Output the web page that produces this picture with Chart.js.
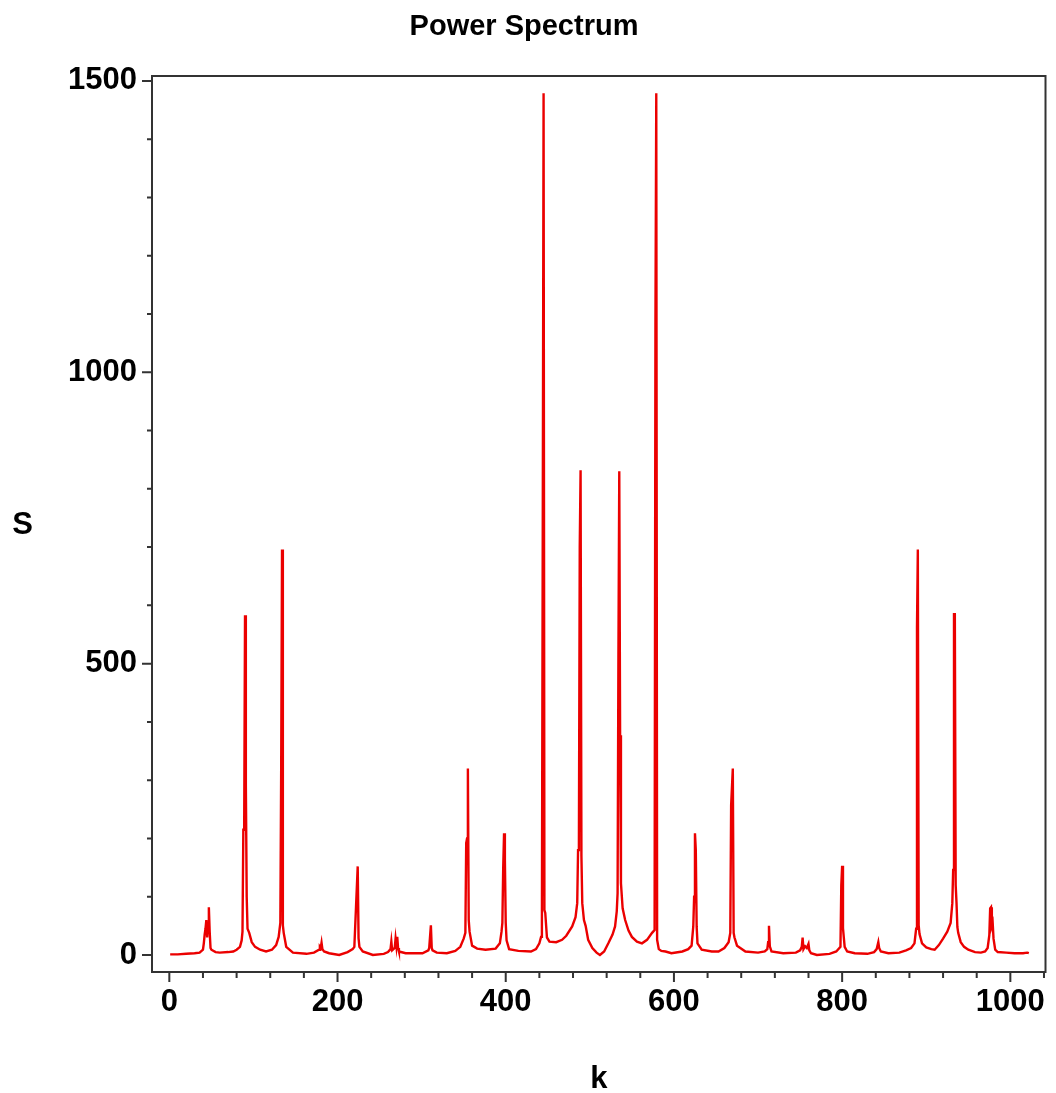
<!DOCTYPE html>
<html><head><meta charset="utf-8">
<script src="https://cdn.jsdelivr.net/npm/chart.js@4.4.1/dist/chart.umd.min.js"></script>
<style>html,body{margin:0;padding:0;background:#fff;}canvas{display:block;}</style>
</head><body>
<canvas id="c" width="1056" height="1093"></canvas>
<script>
const chartTitle = 'Power Spectrum';
const xAxisTitle = 'k';
const yAxisTitle = 'S';

const kValues = [
  1, 10, 20, 30, 36, 40, 41, 42, 43, 44, 45, 46, 47, 48, 49, 50,
  55, 60, 70, 76, 80, 84, 86, 87, 88, 89, 90, 91, 92, 93, 95, 98, 102,
  108, 115, 122, 127, 130, 132, 133, 134, 135, 136, 139, 147,
  163, 172, 178, 179, 180, 181, 182, 184, 190, 202, 212, 218, 220, 221, 222, 223, 224, 225, 226, 230, 242,
  255, 260, 263, 264, 265, 268, 269, 270, 271, 272, 273, 281, 301, 308, 309, 311, 312, 313, 318, 330,
  340, 346, 350, 352, 353, 354, 355, 356, 357, 360, 366, 376, 388, 393, 395, 396, 397, 398, 399, 400, 401, 404,
  415, 430, 436, 440, 442, 443, 444, 445, 446, 447, 449, 452, 460, 467, 472, 479, 483, 485, 486, 487, 488, 489, 490, 491, 493, 495, 498, 503, 508, 512,
  517, 522, 527, 530, 532, 533, 534, 535, 536, 537, 539, 542, 546, 550, 556, 562, 568, 574, 577, 578, 579, 580, 582, 585, 590, 597,
  610, 617, 621, 623, 624, 625, 626, 627, 628, 633, 645, 653, 660, 665, 667, 668, 669, 670, 671, 672, 675, 685,
  700, 708, 711, 712, 713, 714, 716, 730, 745, 750, 752, 753, 754, 756, 758, 760, 761, 763, 770,
  785, 793, 798, 799, 800, 801, 802, 803, 806, 815, 830, 838, 841, 843, 844, 846, 855, 868,
  876, 882, 886, 888, 889, 890, 891, 892, 895, 900, 906, 910, 915, 920, 925, 929, 931, 932, 933, 934, 935, 936, 937, 938,
  941, 945, 950, 958, 965, 970, 973, 975, 976, 977, 978, 979, 980, 982, 985, 995, 1005, 1015, 1020, 1022
];
const sValues = [
  1, 1, 2, 3, 4, 9, 20, 35, 45, 60, 30, 55, 82, 40, 12, 9,
  5, 4, 5, 6, 9, 14, 25, 40, 215, 215, 583, 292, 100, 45, 38, 22, 14,
  9, 6, 9, 17, 31, 55, 320, 696, 51, 38, 14, 4,
  2, 4, 9, 14, 12, 21, 10, 6, 3, 0, 5, 10, 14, 49, 83, 83, 152, 29, 14, 6, 0,
  2, 5, 10, 23, 8, 12, 28, 15, 31, 12, 6, 3, 3, 8, 12, 51, 12, 8, 4, 3,
  7, 14, 28, 38, 192, 200, 320, 60, 40, 16, 11, 9, 11, 20, 40, 55, 150, 209, 163, 55, 25, 10,
  7, 6, 10, 20, 31, 50, 720, 1479, 77, 72, 30, 23, 22, 26, 33, 49, 65, 89, 180, 190, 700, 832, 170, 89, 60, 50, 26, 12, 4, 0,
  6, 20, 35, 49, 75, 106, 520, 830, 377, 123, 80, 60, 42, 31, 23, 20, 26, 38, 43, 1085, 1479, 26, 10, 7, 6, 3,
  6, 10, 16, 49, 100, 209, 180, 49, 20, 9, 6, 6, 12, 22, 38, 257, 257, 320, 38, 30, 16, 6,
  4, 6, 10, 22, 50, 15, 6, 3, 4, 8, 14, 30, 10, 15, 12, 19, 8, 3, 0,
  2, 6, 14, 120, 153, 46, 30, 14, 6, 3, 2, 5, 10, 22, 12, 6, 3, 4,
  8, 12, 20, 45, 563, 696, 51, 36, 20, 13, 10, 9, 17, 28, 40, 55, 89, 146, 585, 585, 120, 89, 48, 38,
  22, 14, 9, 5, 4, 6, 12, 34, 80, 82, 50, 55, 28, 9, 5, 4, 3, 3, 4, 3
];

const xTickValues = [0, 40, 80, 120, 160, 200, 240, 280, 320, 360, 400, 440, 480, 520, 560, 600, 640, 680, 720, 760, 800, 840, 880, 920, 960, 1000, 1040];
const xTickLabels = [0, 200, 400, 600, 800, 1000];
const yTickValues = [0, 100, 200, 300, 400, 500, 600, 700, 800, 900, 1000, 1100, 1200, 1300, 1400, 1500];
const yTickLabels = [0, 500, 1000, 1500];

const FONT = '"Liberation Sans", Arial, Helvetica, sans-serif';
const frameColor = '#333333';

const framePlugin = {
  id: 'frame',
  afterDraw(chart) {
    const {ctx, chartArea: a, scales} = chart;
    ctx.save();
    ctx.strokeStyle = frameColor;
    ctx.lineWidth = 2;
    ctx.strokeRect(a.left, a.top, a.right - a.left, a.bottom - a.top);
    ctx.beginPath();
    scales.x.ticks.forEach(t => {
      const px = scales.x.getPixelForValue(t.value);
      const len = xTickLabels.includes(t.value) ? 10 : 6;
      ctx.moveTo(px, a.bottom);
      ctx.lineTo(px, a.bottom + len);
    });
    scales.y.ticks.forEach(t => {
      const py = scales.y.getPixelForValue(t.value);
      const len = yTickLabels.includes(t.value) ? 10 : 5;
      ctx.moveTo(a.left, py);
      ctx.lineTo(a.left - len, py);
    });
    ctx.stroke();
    ctx.fillStyle = '#000';
    ctx.font = 'bold 31px ' + FONT;
    ctx.textAlign = 'center';
    ctx.textBaseline = 'middle';
    ctx.fillText(yAxisTitle, 22.5, (a.top + a.bottom) / 2 + 1);
    ctx.restore();
  }
};

const points = kValues.map((k, i) => ({x: k, y: sValues[i]}));

new Chart(document.getElementById('c'), {
  type: 'line',
  data: {
    datasets: [{
      data: points,
      borderColor: 'rgb(235,0,0)',
      borderWidth: 2.4,
      pointRadius: 0,
      tension: 0,
      fill: false
    }]
  },
  options: {
    responsive: false,
    animation: false,
    devicePixelRatio: 1,
    layout: {padding: {left: 0, right: 8, top: 0, bottom: 0}},
    plugins: {
      legend: {display: false},
      tooltip: {enabled: false},
      title: {
        display: true,
        text: chartTitle,
        color: '#000',
        font: {family: FONT, size: 29, weight: 'bold', lineHeight: 1.2},
        padding: {top: 10, bottom: 31.2}
      }
    },
    scales: {
      x: {
        type: 'linear',
        min: -20.6,
        max: 1041.8,
        grid: {display: false, drawTicks: false},
        border: {display: false},
        afterBuildTicks: s => { s.ticks = xTickValues.map(v => ({value: v})); },
        afterFit: s => { s.height = 121; },
        ticks: {
          autoSkip: false,
          maxRotation: 0,
          padding: 12,
          color: '#000',
          font: {family: FONT, size: 31, weight: 'bold'},
          callback: v => xTickLabels.includes(v) ? String(v) : ''
        },
        title: {
          display: true,
          text: xAxisTitle,
          color: '#000',
          font: {family: FONT, size: 31, weight: 'bold', lineHeight: 0.9},
          padding: {top: 0, bottom: 0}
        }
      },
      y: {
        type: 'linear',
        min: -29.2,
        max: 1508.5,
        grid: {display: false, drawTicks: false},
        border: {display: false},
        afterBuildTicks: s => { s.ticks = yTickValues.map(v => ({value: v})); },
        afterFit: s => { s.width = 152; },
        ticks: {
          autoSkip: false,
          padding: 15,
          color: '#000',
          font: {family: FONT, size: 31, weight: 'bold'},
          callback: v => yTickLabels.includes(v) ? String(v) : ''
        }
      }
    }
  },
  plugins: [framePlugin]
});
</script>
</body></html>
